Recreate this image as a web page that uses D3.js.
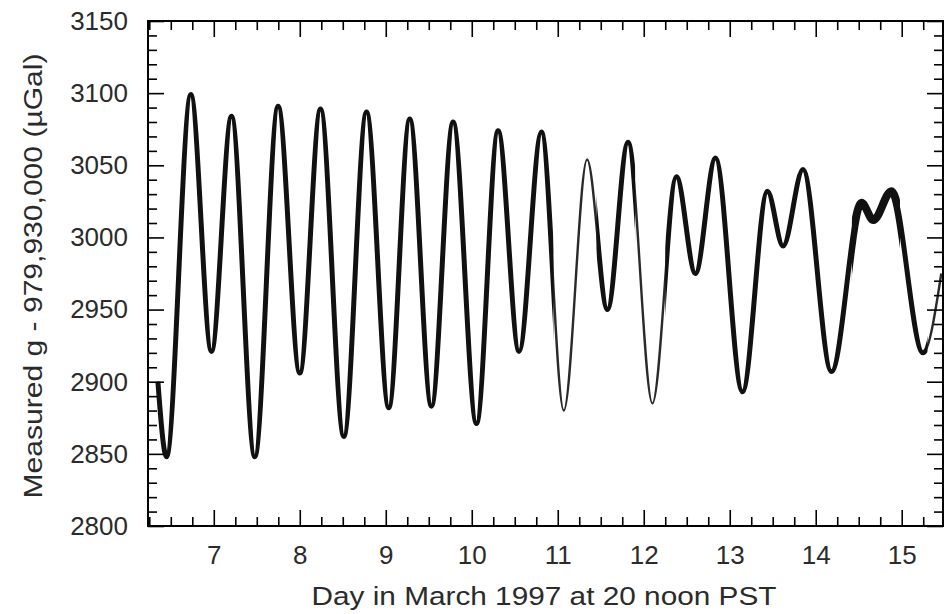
<!DOCTYPE html>
<html>
<head>
<meta charset="utf-8">
<script src="https://cdn.jsdelivr.net/npm/d3@7"></script>
<style>
  body { margin: 0; background: #fff; }
  svg { display: block; font-family: "Liberation Sans", Arial, sans-serif; }
</style>
</head>
<body>
<script>
// day in March 1997 (tide extremes)
var days = [6.35, 6.45, 6.733, 6.973, 7.206, 7.477, 7.748, 8.0, 8.241, 8.512,
            8.776, 9.035, 9.279, 9.531, 9.783, 10.055, 10.306, 10.55, 10.81, 11.07,
            11.341, 11.578, 11.817, 12.101, 12.38, 12.601, 12.834, 13.148, 13.438, 13.62,
            13.852, 14.183, 14.532, 14.67, 14.88, 15.248, 15.46];

// measured g - 979,930,000 (uGal)
var gravity = [2900, 2848, 3099, 2921, 3084, 2848, 3091, 2906, 3089, 2862,
               3087, 2882, 3082, 2883, 3080, 2871, 3074, 2921, 3073, 2880,
               3054, 2950, 3066, 2885, 3042, 2975, 3055, 2893, 3032, 2994,
               3047, 2907, 3024, 3012, 3032, 2920, 2975];

var xMajor = [7, 8, 9, 10, 11, 12, 13, 14, 15];
var yMajor = [2800, 2850, 2900, 2950, 3000, 3050, 3100, 3150];

// define size
var width = 949, height = 614;
var margin = {left: 148, right: 6, top: 21, bottom: 88};

var svg = d3.select("body")
  .append("svg")
  .attr("width", width)
  .attr("height", height);

// define scales
var x = d3.scaleLinear()
    .domain([6.235, 15.48])
    .range([margin.left, width - margin.right]);

var y = d3.scaleLinear()
    .domain([2800, 3150])
    .range([height - margin.bottom, margin.top]);

var xMinor = d3.range(6.25, 15.5, 0.25).filter(function(d) { return d % 1 !== 0; });
var yMinor = d3.range(2810, 3150, 10).filter(function(d) { return d % 50 !== 0; });

// clip for the plot area
var defs = svg.append("defs");
function addClip(id, ranges) {
  var cp = defs.append("clipPath").attr("id", id);
  ranges.forEach(function(r) {
    cp.append("rect")
      .attr("x", x(r[0]))
      .attr("y", margin.top)
      .attr("width", x(r[1]) - x(r[0]))
      .attr("height", y(2800) - margin.top);
  });
}
addClip("plot", [[6.235, 15.48]]);
addClip("thick", [[6.2, 10.95], [11.45, 11.9], [12.25, 15.3]]);
addClip("heavy", [[14.42, 14.98]]);

var line = d3.line()
    .x(function(d, i) { return x(days[i]); })
    .y(function(d) { return y(d); })
    .curve(d3.curveMonotoneX);

// data line: thin everywhere, thicker where the record is noisier
svg.append("path")
    .attr("d", line(gravity))
    .attr("clip-path", "url(#plot)")
    .attr("fill", "none")
    .attr("stroke", "#2a2a2a")
    .attr("stroke-width", 2.4);

svg.append("path")
    .attr("d", line(gravity))
    .attr("clip-path", "url(#thick)")
    .attr("fill", "none")
    .attr("stroke", "#111")
    .attr("stroke-width", 5);

svg.append("path")
    .attr("d", line(gravity))
    .attr("clip-path", "url(#heavy)")
    .attr("fill", "none")
    .attr("stroke", "#111")
    .attr("stroke-width", 8);

// axes, ticks on all four sides pointing in
function styleAxis(g) {
  g.select(".domain").remove();
  g.selectAll(".tick line").attr("stroke", "#000").attr("stroke-width", 1.6);
  g.selectAll(".tick text")
    .attr("fill", "#2b2b2b")
    .attr("font-size", 26)
    .attr("font-family", "Liberation Sans, Arial, sans-serif");
}

svg.append("g")
    .attr("transform", "translate(0," + y(2800) + ")")
    .call(d3.axisBottom(x).tickValues(xMajor).tickSize(-16).tickPadding(20).tickFormat(d3.format("d")))
    .call(styleAxis);
svg.append("g")
    .attr("transform", "translate(0," + y(2800) + ")")
    .call(d3.axisBottom(x).tickValues(xMinor).tickSize(-9).tickFormat(""))
    .call(styleAxis);
svg.append("g")
    .attr("transform", "translate(0," + y(3150) + ")")
    .call(d3.axisTop(x).tickValues(xMajor).tickSize(-16).tickFormat(""))
    .call(styleAxis);
svg.append("g")
    .attr("transform", "translate(0," + y(3150) + ")")
    .call(d3.axisTop(x).tickValues(xMinor).tickSize(-9).tickFormat(""))
    .call(styleAxis);

svg.append("g")
    .attr("transform", "translate(" + x.range()[0] + ",0)")
    .call(d3.axisLeft(y).tickValues(yMajor).tickSize(-16).tickPadding(20).tickFormat(d3.format("d")))
    .call(styleAxis);
svg.append("g")
    .attr("transform", "translate(" + x.range()[0] + ",0)")
    .call(d3.axisLeft(y).tickValues(yMinor).tickSize(-9).tickFormat(""))
    .call(styleAxis);
svg.append("g")
    .attr("transform", "translate(" + x.range()[1] + ",0)")
    .call(d3.axisRight(y).tickValues(yMajor).tickSize(-16).tickFormat(""))
    .call(styleAxis);
svg.append("g")
    .attr("transform", "translate(" + x.range()[1] + ",0)")
    .call(d3.axisRight(y).tickValues(yMinor).tickSize(-9).tickFormat(""))
    .call(styleAxis);

// frame
svg.append("rect")
    .attr("x", x.range()[0])
    .attr("y", y.range()[1])
    .attr("width", x.range()[1] - x.range()[0])
    .attr("height", y.range()[0] - y.range()[1])
    .attr("fill", "none")
    .attr("stroke", "#000")
    .attr("stroke-width", 2);

// axis titles
svg.append("text")
    .attr("x", 544)
    .attr("y", 605)
    .attr("text-anchor", "middle")
    .attr("fill", "#2b2b2b")
    .attr("font-size", 25)
    .attr("textLength", 465)
    .attr("lengthAdjust", "spacingAndGlyphs")
    .text("Day in March 1997 at 20 noon PST");

svg.append("text")
    .attr("transform", "translate(42,276) rotate(-90)")
    .attr("text-anchor", "middle")
    .attr("fill", "#2b2b2b")
    .attr("font-size", 25)
    .attr("textLength", 445)
    .attr("lengthAdjust", "spacingAndGlyphs")
    .text("Measured g - 979,930,000 (\u00b5Gal)");
</script>
</body>
</html>
